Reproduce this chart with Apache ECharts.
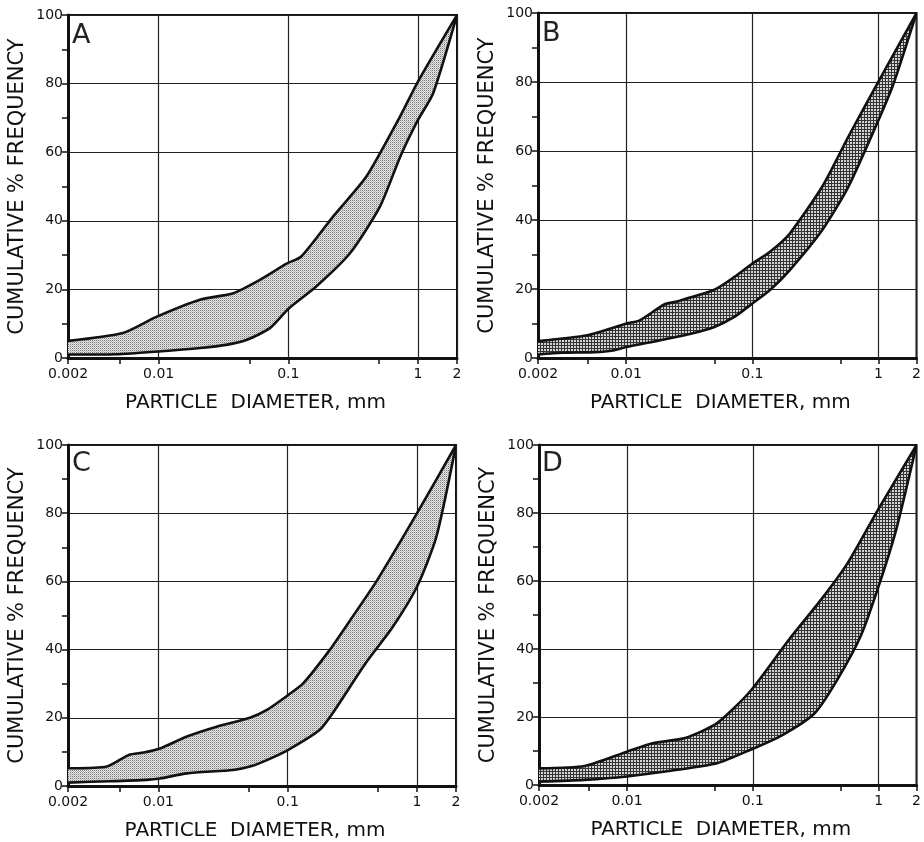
<!DOCTYPE html>
<html><head><meta charset="utf-8">
<script src="https://cdn.jsdelivr.net/npm/echarts@6/dist/echarts.min.js"></script>
<style>html,body{margin:0;padding:0;background:#fff}#c{width:924px;height:842px}</style>
</head><body><div id="c"></div>
<script>
// ---- data ----
const xMinorTickValues = [0.005, 0.05, 0.5];
const panelLetters = ['A', 'B', 'C', 'D'];
const xAxisTitle = 'PARTICLE  DIAMETER, mm';
const yAxisTitle = 'CUMULATIVE % FREQUENCY';

const aUpper = [[0.002,5],[0.0053,7.3],[0.0096,12],[0.0208,17],[0.0376,18.9],[0.0604,22.8],[0.097,27.5],[0.126,29.6],[0.222,41.3],[0.40,52.9],[0.727,70.4],[1,80.6],[2,100]];
const aLower = [[0.002,1],[0.0047,1.1],[0.01,1.9],[0.021,2.9],[0.034,3.9],[0.048,5.3],[0.072,8.7],[0.1,14.3],[0.165,20.9],[0.30,30.6],[0.51,44.2],[0.73,58.7],[1,69.4],[1.31,77.2],[2,100]];

const bUpper = [[0.002,4.9],[0.0049,6.6],[0.0101,10],[0.0128,10.9],[0.02,15.5],[0.0246,16.3],[0.05,19.8],[0.072,23.5],[0.1,27.4],[0.138,30.8],[0.198,36.1],[0.358,49.7],[0.577,64.2],[1,80.2],[2,100]];
const bLower = [[0.002,1],[0.0031,1.5],[0.0056,1.7],[0.0079,2.2],[0.01,3.2],[0.0183,5.1],[0.0331,7.1],[0.05,9],[0.072,11.9],[0.1,15.8],[0.138,19.7],[0.198,25.5],[0.358,37.1],[0.577,49.7],[1,69],[1.32,79.7],[2,100]];

const cUpper = [[0.002,5.2],[0.004,5.7],[0.0059,9.1],[0.0077,9.8],[0.0103,11],[0.0166,14.5],[0.0282,17.4],[0.051,20],[0.069,22.3],[0.101,26.7],[0.131,30],[0.212,40],[0.305,48.7],[0.485,60],[1,80],[2,100]];
const cLower = [[0.002,1],[0.0035,1.3],[0.0081,1.8],[0.0103,2.2],[0.0166,3.7],[0.0379,4.7],[0.051,5.7],[0.069,7.6],[0.101,10.6],[0.176,16.4],[0.222,21.3],[0.4,36],[0.65,46.7],[1,58.5],[1.41,73.1],[2,100]];

const dUpper = [[0.002,4.9],[0.0046,5.6],[0.01,9.8],[0.016,12.3],[0.029,13.8],[0.052,18.2],[0.095,27.5],[0.194,42.8],[0.35,54.6],[0.57,65.4],[1,81.3],[2,100]];
const dLower = [[0.002,1],[0.0046,1.5],[0.01,2.5],[0.0244,4.4],[0.052,6.4],[0.095,10.3],[0.172,14.7],[0.31,21.1],[0.47,31],[0.72,43.8],[1,58.5],[1.38,75.2],[2,100]];

const bands = [[aUpper, aLower], [bUpper, bLower], [cUpper, cLower], [dUpper, dLower]];

// ---- styling / layout ----
function makePattern(dark) {
  const c = document.createElement('canvas');
  const g = c.getContext('2d');
  if (dark) {
    c.width = 3; c.height = 3;
    g.fillStyle = '#d4d4d4'; g.fillRect(0, 0, 3, 3);
    g.fillStyle = '#333'; g.fillRect(0, 0, 3, 1); g.fillRect(0, 0, 1, 3);
  } else {
    c.width = 2; c.height = 2;
    g.fillStyle = '#e6e6e6'; g.fillRect(0, 0, 2, 2);
    g.fillStyle = '#7a7a7a'; g.fillRect(0, 0, 1, 1);
    g.fillStyle = '#bcbcbc'; g.fillRect(1, 1, 1, 1);
  }
  return { image: c, repeat: 'repeat' };
}
const patterns = [makePattern(false), makePattern(true), makePattern(false), makePattern(true)];

const grids = [
  { left: 68, top: 15, width: 389, height: 343 },
  { left: 538, top: 13, width: 384, height: 345 },
  { left: 68, top: 445, width: 388, height: 341 },
  { left: 539, top: 445, width: 384, height: 340 }
];
const letterPos = [[72, 22], [542, 20], [72, 450], [542, 450]];
const FONT = 'DejaVu Sans';
const INK = '#111';
const SMOOTH = 0.22;

const mainX = grids.map((g, i) => ({
  type: 'log', logBase: 10, gridIndex: i, min: 0.002, max: 2, position: 'bottom',
  name: xAxisTitle, nameLocation: 'middle', nameGap: 35,
  nameTextStyle: { fontFamily: FONT, fontSize: 20, color: INK, padding: [0, 14, 0, 0] },
  axisLine: { show: true, onZero: false, lineStyle: { color: INK, width: 3 } },
  axisTick: { show: true, length: 6, lineStyle: { color: INK, width: 1.5 } },
  minorTick: { show: false },
  axisLabel: {
    fontFamily: FONT, fontSize: 14, color: INK, margin: 9,
    formatter: v => String(+(+v).toPrecision(3))
  },
  splitLine: { show: true, lineStyle: { color: '#222', width: 1.2 } }
}));
const minorX = grids.map((g, i) => ({
  type: 'log', logBase: 10, gridIndex: i, min: 0.002, max: 2, position: 'bottom', offset: 0,
  axisLine: { show: false, onZero: false },
  axisTick: { show: true, customValues: xMinorTickValues, length: 6, lineStyle: { color: INK, width: 1.5 } },
  axisLabel: { show: false },
  splitLine: { show: false }
}));

const option = {
  animation: false,
  backgroundColor: '#fff',
  title: panelLetters.map((t, i) => ({
    text: t, left: letterPos[i][0], top: letterPos[i][1], padding: 0,
    textStyle: { fontFamily: FONT, fontSize: 27, fontWeight: 'normal', color: '#222' }
  })),
  grid: grids.map(g => Object.assign({ show: true, borderColor: INK, borderWidth: 2, backgroundColor: 'transparent' }, g)),
  xAxis: mainX.concat(minorX),
  yAxis: grids.map((g, i) => ({
    type: 'value', gridIndex: i, min: 0, max: 100, interval: 20,
    name: yAxisTitle, nameLocation: 'middle', nameGap: 40,
    nameTextStyle: { fontFamily: FONT, fontSize: 21, color: INK },
    axisLine: { show: true, onZero: false, lineStyle: { color: INK, width: 3 } },
    axisTick: { show: true, length: 6, lineStyle: { color: INK, width: 1.5 } },
    minorTick: { show: true, splitNumber: 2, length: 6, lineStyle: { color: INK, width: 1.5 } },
    axisLabel: { fontFamily: FONT, fontSize: 14, color: INK, margin: 5 },
    splitLine: { show: true, lineStyle: { color: '#222', width: 1.2 } }
  })),
  series: bands.map(([up, lo], i) => ({
    type: 'custom', xAxisIndex: i, yAxisIndex: i, clip: true, silent: true, z: 3,
    data: [[0.1, 50]],
    renderItem: (params, api) => {
      const upPts = up.map(p => api.coord(p));
      const loPts = lo.map(p => api.coord(p));
      const lineStyle = { fill: null, stroke: INK, lineWidth: 2.6, lineJoin: 'round', lineCap: 'round' };
      return {
        type: 'group',
        children: [
          { type: 'polygon', shape: { points: upPts.concat(loPts.slice().reverse()), smooth: SMOOTH }, style: { fill: patterns[i], stroke: null } },
          { type: 'polyline', shape: { points: upPts, smooth: SMOOTH }, style: lineStyle },
          { type: 'polyline', shape: { points: loPts, smooth: SMOOTH }, style: lineStyle }
        ]
      };
    }
  }))
};

const chart = echarts.init(document.getElementById('c'), null, { renderer: 'canvas' });
chart.setOption(option);
</script></body></html>
